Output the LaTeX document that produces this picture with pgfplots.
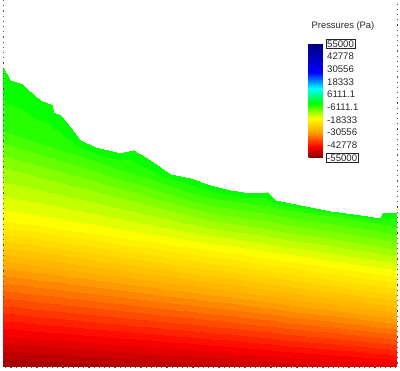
\documentclass[border=0pt]{standalone}
\usepackage{fontspec}
\setmainfont{Liberation Sans}
\usepackage{pgfplots}
\usepackage{pgfplotstable}
\pgfplotsset{compat=1.18}
\pgfplotsset{
  colormap={pres}{rgb255(0cm)=(128,0,0) rgb255(10cm)=(255,0,0) rgb255(23cm)=(255,165,0) rgb255(35cm)=(255,255,0) rgb255(48cm)=(0,255,0) rgb255(61cm)=(0,255,255) rgb255(75cm)=(0,0,255) rgb255(100cm)=(0,0,128)},
  colormap={presd}{samples of colormap=(64 of pres)},
}
\pgfplotstableread{
x y z p
3 68 0 -2000
10 80 0 -2000
22 84 0 -2000
27 89 0 -2000
40 100 0 -2000
52 105 0 -2000
53 112 0 -2000
60 115 0 -2000
70 127 0 -2000
80 140 0 -2000
95 147 0 -2000
120 153 0 -2000
133 150 0 -2000
150 160 0 -2000
170 174 0 -2000
190 178 0 -2000
210 185 0 -2000
230 190 0 -2000
250 193 0 -2000
267 192 0 -2000
275 200 0 -2000
300 205 0 -2000
330 211 0 -2000
360 215 0 -2000
380 218 0 -2000
383 213 0 -2000
397 213 0 -2000
3 130 0 -5000
10 132.3 0 -5000
22 136.3 0 -5000
27 137.9 0 -5000
40 142.2 0 -5000
52 146.2 0 -5000
53 146.5 0 -5000
60 148.8 0 -5000
70 152.1 0 -5000
80 155.4 0 -5000
95 160.4 0 -5000
120 168.6 0 -5000
133 172.9 0 -5000
150 178.5 0 -5000
170 185.1 0 -5000
190 191.7 0 -5000
210 196.6 0 -5000
230 199.7 0 -5000
250 202.9 0 -5000
267 205.5 0 -5000
275 206.8 0 -5000
300 210.7 0 -5000
330 215.4 0 -5000
360 220.1 0 -5000
380 223.3 0 -5000
383 223.7 0 -5000
397 225.9 0 -5000
3 165 0 -10000
10 166.8 0 -10000
22 170.0 0 -10000
27 171.3 0 -10000
40 174.8 0 -10000
52 177.9 0 -10000
53 178.2 0 -10000
60 180.0 0 -10000
70 182.7 0 -10000
80 185.3 0 -10000
95 189.3 0 -10000
120 195.9 0 -10000
133 199.3 0 -10000
150 203.8 0 -10000
170 209.1 0 -10000
190 214.4 0 -10000
210 218.6 0 -10000
230 221.7 0 -10000
250 224.9 0 -10000
267 227.5 0 -10000
275 228.8 0 -10000
300 232.7 0 -10000
330 237.4 0 -10000
360 242.1 0 -10000
380 245.3 0 -10000
383 245.7 0 -10000
397 247.9 0 -10000
3 218 0 -16500
10 219 0 -16500
22 220.7 0 -16500
27 221.4 0 -16500
40 223.3 0 -16500
52 225.0 0 -16500
53 225.2 0 -16500
60 226.2 0 -16500
70 227.6 0 -16500
80 229.0 0 -16500
95 231.2 0 -16500
120 234.7 0 -16500
133 236.6 0 -16500
150 239.0 0 -16500
170 241.9 0 -16500
190 244.7 0 -16500
210 247.6 0 -16500
230 250.5 0 -16500
250 253.3 0 -16500
267 255.8 0 -16500
275 256.9 0 -16500
300 260.5 0 -16500
330 264.8 0 -16500
360 269.1 0 -16500
380 271.9 0 -16500
383 272.3 0 -16500
397 274.3 0 -16500
3 267 0 -29000
10 267.9 0 -29000
22 269.5 0 -29000
27 270.1 0 -29000
40 271.8 0 -29000
52 273.4 0 -29000
53 273.5 0 -29000
60 274.4 0 -29000
70 275.7 0 -29000
80 277.0 0 -29000
95 279.0 0 -29000
120 282.2 0 -29000
133 283.9 0 -29000
150 286.1 0 -29000
170 288.7 0 -29000
190 291.3 0 -29000
210 293.9 0 -29000
230 296.5 0 -29000
250 299.1 0 -29000
267 301.3 0 -29000
275 302.4 0 -29000
300 305.6 0 -29000
330 309.5 0 -29000
360 313.4 0 -29000
380 316.0 0 -29000
383 316.4 0 -29000
397 318.2 0 -29000
3 333 0 -44000
10 333.5 0 -44000
22 334.4 0 -44000
27 334.8 0 -44000
40 335.8 0 -44000
52 336.7 0 -44000
53 336.8 0 -44000
60 337.3 0 -44000
70 338.1 0 -44000
80 338.9 0 -44000
95 340.0 0 -44000
120 341.9 0 -44000
133 342.9 0 -44000
150 344.2 0 -44000
170 345.7 0 -44000
190 347.2 0 -44000
210 348.7 0 -44000
230 350.3 0 -44000
250 351.8 0 -44000
267 353.1 0 -44000
275 353.7 0 -44000
300 355.6 0 -44000
330 357.9 0 -44000
360 360.1 0 -44000
380 361.7 0 -44000
383 361.9 0 -44000
397 362.9 0 -44000
3 367 0 -51700
10 367 0 -51660
22 367 0 -51540
27 367 0 -51470
40 367 0 -51310
52 367 0 -51180
53 367 0 -51170
60 367 0 -51080
70 367 0 -50950
80 367 0 -50810
95 367 0 -50640
120 367 0 -50310
133 367 0 -50130
150 367 0 -49890
170 367 0 -49600
190 367 0 -49310
210 367 0 -49010
230 367 0 -48660
250 367 0 -48330
267 367 0 -48030
275 367 0 -47890
300 367 0 -47420
330 367 0 -46820
360 367 0 -46220
380 367 0 -45740
383 367 0 -45680
397 367 0 -45380
}\presdata
\begin{document}
\begin{tikzpicture}
\setlength\fboxsep{1pt}
\setlength\fboxrule{0.6pt}
\begin{axis}[
  at={(3pt,4pt)}, anchor=south west,
  scale only axis, width=394pt, height=367pt,
  xmin=3, xmax=397, ymin=0, ymax=367, y dir=reverse,
  view={0}{90},
  hide axis,
  colormap name=pres,
  point meta min=-55000, point meta max=55000,
  colorbar,
  colorbar style={
    at={(parent axis.north west)}, anchor=north west,
    xshift=297pt, yshift=-44pt,
    scale only axis, width=15pt, height=114pt,
    axis line style={draw=none},
    ytick style={draw=none},
    major tick length=0pt,
    scaled y ticks=false,
    ytick={-55000,-42778,-30556,-18333,-6111.1,6111.1,18333,30556,42778,55000},
    yticklabels={\kern-1.6pt\fbox{-55000},-42778,-30556,-18333,-6111.1,6111.1,18333,30556,42778,\kern-1.6pt\fbox{55000}},
    yticklabel style={font=\fontsize{9.6}{11}\selectfont, text=black!85, inner sep=0pt, xshift=3.5pt},
  },
]
\addplot3[surf, shader=interp, colormap name=presd, colormap access=piecewise constant,
  mesh/cols=27, point meta=\thisrow{p}] table[x=x, y=y, z=z] {\presdata};
\end{axis}
\node[font=\fontsize{9.4}{11}\selectfont, text=black!85] at (343pt,345pt) {Pressures (Pa)};
\draw[black!70, line width=0.8pt, dash pattern=on 1.2pt off 4pt] (3pt,371pt) -- (3pt,4pt) -- (397pt,4pt) -- (397pt,371pt);
\pgfresetboundingbox
\useasboundingbox (0,0) rectangle (400pt,371pt);
\end{tikzpicture}
\end{document}
